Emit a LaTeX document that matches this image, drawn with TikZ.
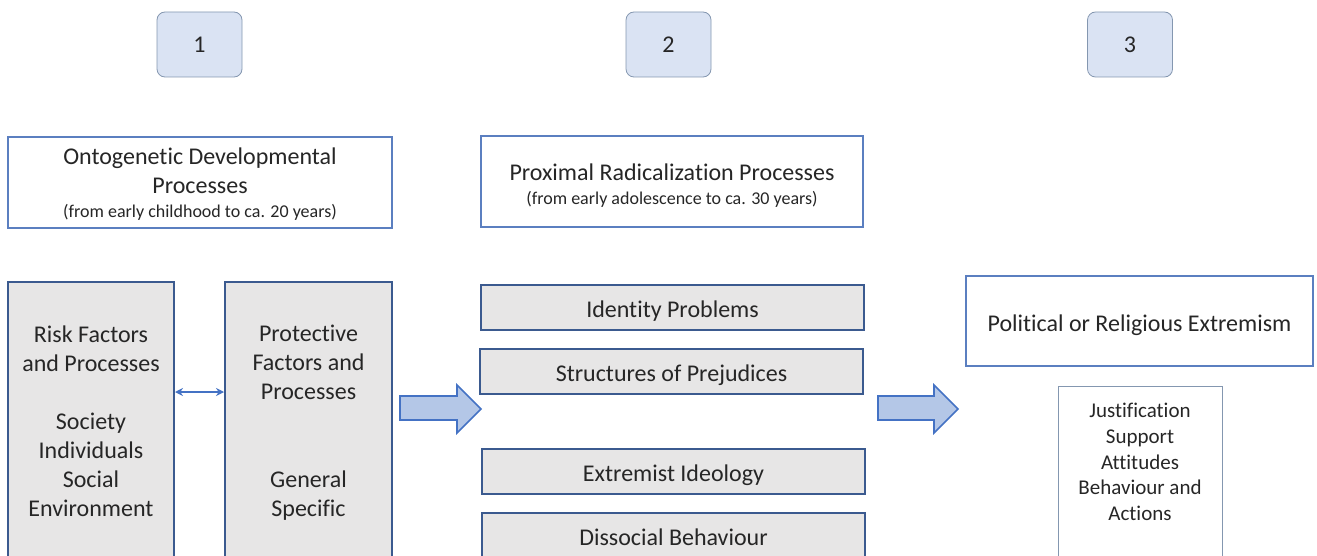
\documentclass[tikz,border=0pt]{standalone}
\usepackage{fontspec}
\setmainfont{Carlito}[Ligatures=NoCommon]
\usepackage{tikz}
\usetikzlibrary{arrows.meta}

\definecolor{numfill}{HTML}{DAE3F3}
\definecolor{numdraw}{HTML}{8497B0}
\definecolor{headdraw}{HTML}{5B7FC0}
\definecolor{graydraw}{HTML}{3B5A8F}
\definecolor{grayfill}{HTML}{E7E6E6}
\definecolor{arrowfill}{HTML}{B4C7E7}
\definecolor{arrowdraw}{HTML}{4472C4}
\definecolor{textcol}{HTML}{262626}

\tikzset{
	boxtext/.style={align=center, text=textcol, font=\fontsize{12}{14.5}\selectfont},
	numbox/.style={boxtext, draw=numdraw, fill=numfill, rounded corners=4pt, minimum width=42.5pt, minimum height=32.5pt},
	headbox/.style={boxtext, draw=headdraw, line width=0.8pt, fill=white, minimum width=192pt, minimum height=45.5pt},
	graybox/.style={draw=graydraw, line width=1pt, fill=grayfill},
	barbox/.style={boxtext, graybox, minimum width=191.5pt, minimum height=22.5pt, text height=10.5pt, text depth=0.5pt},
	bigarrow/.style={draw=arrowdraw, fill=arrowfill, line width=0.8pt}
}

\begin{document}
\begin{tikzpicture}[x=0.5pt, y=-0.5pt]
	\clip (0,0) rectangle (1317,556);

	\node[numbox] (num1) at (199.5, 44.5) {1};
	\node[numbox] (num2) at (668.5, 44.5) {2};
	\node[numbox] (num3) at (1130, 44.5) {3};

	\node[headbox] (onto) at (200, 182.5) {};
	\node[boxtext] (ontotext) at (200, 184.5) {Ontogenetic Developmental\\Processes\\[-2.5pt]{\fontsize{9}{11}\selectfont (from early childhood to ca. 20 years)}};
	\node[headbox, minimum width=191pt] (prox) at (672, 181.5) {};
	\node[boxtext] (proxtext) at (672, 185.5) {Proximal Radicalization Processes\\[-2.5pt]{\fontsize{9}{11}\selectfont (from early adolescence to ca. 30 years)}};

	\node[graybox, minimum width=83pt, minimum height=150pt] (risk) at (91, 432) {};
	\node[graybox, minimum width=83.5pt, minimum height=150pt] (prot) at (308.5, 432) {};
	\node[boxtext] (risktext) at (91, 421) {Risk Factors\\and Processes\\[14.5pt]Society\\Individuals\\Social\\Environment};
	\node[boxtext] (prottext) at (308.5, 423) {Protective\\Factors and\\Processes\\[29.5pt]General\\Specific};

	\node[barbox] (ident) at (672.5, 307.5) {Identity Problems};
	\node[barbox] (prej) at (671.5, 371.5) {Structures of Prejudices};
	\node[barbox] (ideo) at (673.5, 471.5) {Extremist Ideology};
	\node[barbox] (dissoc) at (673.5, 535) {Dissocial Behaviour};

	\node[headbox, minimum width=173.5pt, minimum height=45pt, text height=10.5pt, text depth=0.5pt] (extrem) at (1139.5, 321) {Political or Religious Extremism};
	\node[draw=numdraw, line width=0.5pt, minimum width=82pt, minimum height=92pt] (just) at (1140, 478) {};
	\node[boxtext, font=\fontsize{10.5}{12.8}\selectfont] (justtext) at (1140, 462) {Justification\\Support\\Attitudes\\Behaviour and\\Actions};

	\draw[<->, >={Stealth[length=4pt, width=4pt]}, draw=arrowdraw, line width=0.8pt] ([yshift=20pt]risk.east) -- ([yshift=20pt]prot.west);

	\draw[bigarrow] (400,396) -- (457,396) -- (457,385) -- (481,409) -- (457,433) -- (457,420) -- (400,420) -- cycle;
	\draw[bigarrow] (878,396) -- (934,396) -- (934,385) -- (958,409) -- (934,433) -- (934,420) -- (878,420) -- cycle;

\end{tikzpicture}
\end{document}
